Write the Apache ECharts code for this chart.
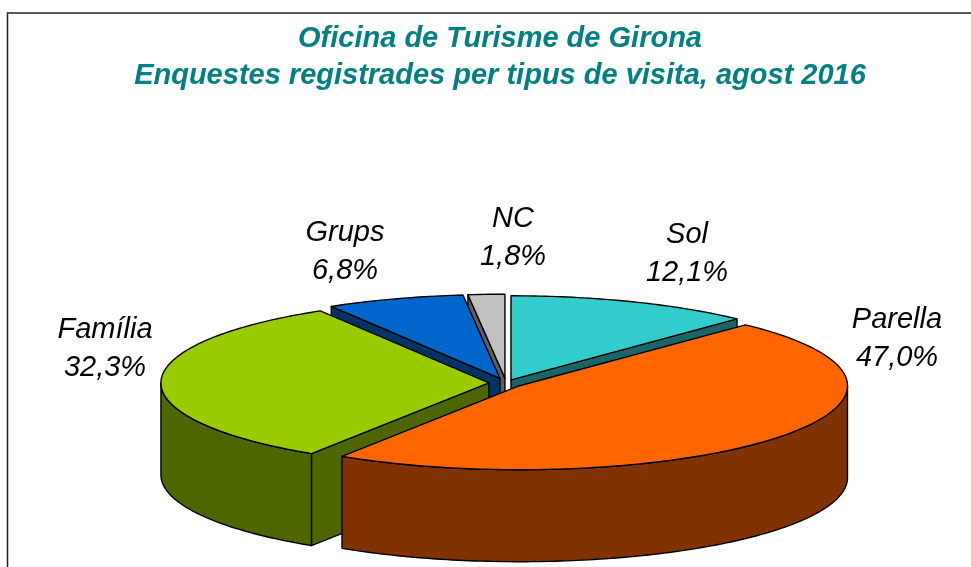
<!DOCTYPE html>
<html>
<head>
<meta charset="utf-8">
<style>
  html, body { margin: 0; padding: 0; background: #fff; }
  #main { width: 971px; height: 567px; }
</style>
<script src="https://cdn.jsdelivr.net/npm/echarts@6/dist/echarts.min.js"></script>
</head>
<body>
<div id="main"></div>
<script>
var categories = ["Sol", "Parella", "Família", "Grups", "NC"];
var values = [12.1, 47.0, 32.3, 6.8, 1.8];

var topColors = ["#33CCCC", "#FF6600", "#99CC00", "#0066CC", "#C0C0C0"];
var sideColors = ["#1A6666", "#803300", "#4D6600", "#003366", "#606060"];
var labelAnchors = [[687, 254], [897, 339], [105, 349], [345, 252], [513, 238]];
var explode = [0.041, 0.0523, 0.052, 0.057, 0.057];

// ellipse of the tilted pie
var cx = 506, cy = 383, rx = 328, ry = 84, depth = 92;

var total = values.reduce(function (a, b) { return a + b; }, 0);
var slices = [];
var acc = 0;
values.forEach(function (v, i) {
  var a0 = acc / total * 360;
  acc += v;
  var a1 = acc / total * 360;
  var mid = (a0 + a1) / 2 * Math.PI / 180;
  slices.push({
    idx: i, a0: a0, a1: a1,
    x: cx + explode[i] * rx * Math.sin(mid),
    y: cy - explode[i] * ry * Math.cos(mid),
    back: Math.cos(mid)
  });
});
// back slices first, front ones paint over them
var drawOrder = slices.slice().sort(function (p, q) { return q.back - p.back; });

function rim(s, deg, dy) {
  var r = deg * Math.PI / 180;
  return [s.x + rx * Math.sin(r), s.y - ry * Math.cos(r) + (dy || 0)];
}
function arc(s, from, to, dy) {
  var pts = [];
  var n = Math.max(2, Math.ceil(Math.abs(to - from)));
  for (var k = 0; k <= n; k++) pts.push(rim(s, from + (to - from) * k / n, dy));
  return pts;
}
function poly(points, fill, z) {
  return {
    type: "polygon",
    shape: { points: points },
    style: { fill: fill, stroke: "#000", lineWidth: 1.4, lineJoin: "round" },
    z2: z
  };
}
function cutFace(s, deg, fill) {
  return poly([[s.x, s.y], rim(s, deg), rim(s, deg, depth), [s.x, s.y + depth]], fill, 1);
}

function renderSlice(params, api) {
  var s = drawOrder[api.value(0)];
  var side = sideColors[s.idx];
  var kids = [];
  var r0 = s.a0 * Math.PI / 180, r1 = s.a1 * Math.PI / 180;
  // cut faces, only the ones turned towards the viewer
  if (-Math.sin(r0) > 0.001) kids.push(cutFace(s, s.a0, side));
  if (Math.sin(r1) > 0.001) kids.push(cutFace(s, s.a1, side));
  // outer wall on the front half of the rim
  var w0 = Math.max(s.a0, 90), w1 = Math.min(s.a1, 270);
  if (w1 > w0) {
    kids.push(poly(arc(s, w0, w1).concat(arc(s, w1, w0, depth)), side, 1));
  }
  kids.push(poly([[s.x, s.y]].concat(arc(s, s.a0, s.a1)), topColors[s.idx], 2));
  return { type: "group", children: kids };
}

function renderLabel(params, api) {
  var i = api.value(0);
  return {
    type: "text",
    style: {
      x: labelAnchors[i][0],
      y: labelAnchors[i][1],
      text: categories[i] + "\n" + values[i].toFixed(1).replace(".", ",") + "%",
      font: "italic 29px 'Liberation Sans', Arial, sans-serif",
      fill: "#000",
      align: "center",
      verticalAlign: "middle",
      lineHeight: 38
    }
  };
}

var chart = echarts.init(document.getElementById("main"), null, { renderer: "canvas" });
chart.setOption({
  animation: false,
  backgroundColor: "#fff",
  title: {
    text: "Oficina de Turisme de Girona\nEnquestes registrades per tipus de visita, agost 2016",
    left: 495,
    top: 15,
    textAlign: "center",
    textStyle: {
      color: "#008080",
      fontFamily: "'Liberation Sans', Arial, sans-serif",
      fontStyle: "italic",
      fontWeight: "bold",
      fontSize: 29,
      lineHeight: 37
    }
  },
  graphic: [{
    type: "rect",
    shape: { x: 7.5, y: 13, width: 1100, height: 700 },
    style: { fill: "none", stroke: "#222", lineWidth: 1.5 },
    silent: true
  }],
  series: [
    {
      type: "custom",
      coordinateSystem: "none",
      silent: true,
      renderItem: renderSlice,
      data: drawOrder.map(function (s, i) { return [i]; }),
      z: 2
    },
    {
      type: "custom",
      coordinateSystem: "none",
      silent: true,
      renderItem: renderLabel,
      data: categories.map(function (c, i) { return [i]; }),
      z: 3
    }
  ]
});
</script>
</body>
</html>
